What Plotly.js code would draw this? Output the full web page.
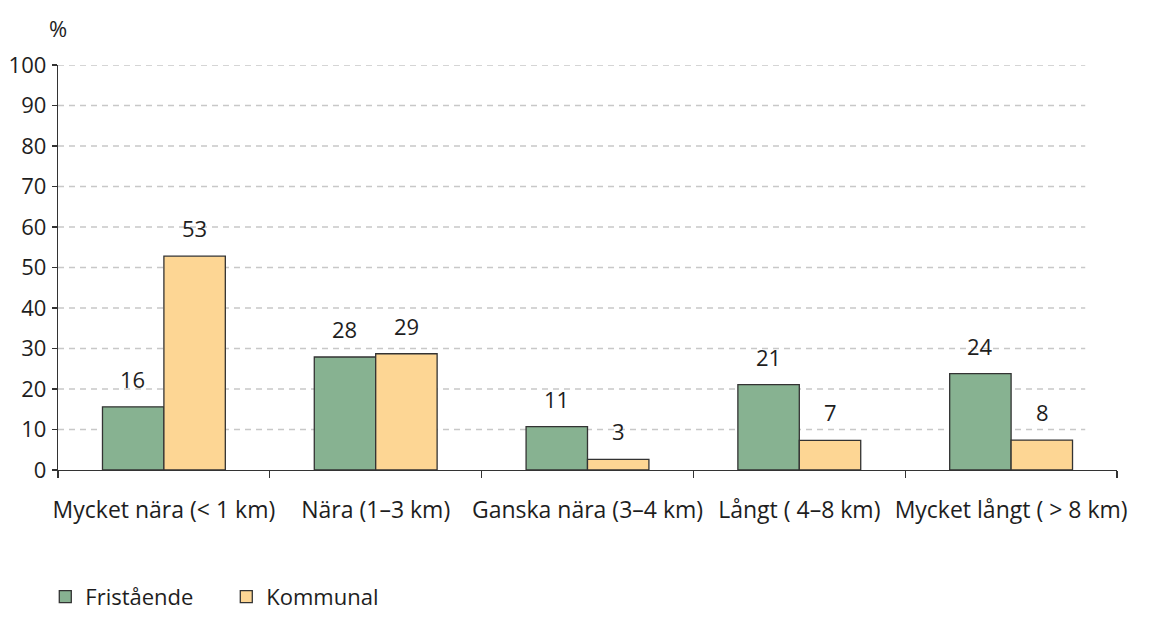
<!DOCTYPE html>
<html><head><meta charset="utf-8">
<script src="https://cdn.plot.ly/plotly-3.0.1.min.js"></script>
<style>html,body{margin:0;padding:0;background:#fff}#chart{width:1159px;height:628px}</style>
</head><body><div id="chart"></div>
<script>
const categories = ["Mycket nära (< 1 km)", "Nära (1–3 km)", "Ganska nära (3–4 km)", "Långt ( 4–8 km)", "Mycket långt ( > 8 km)"];
const fristaende = [15.6, 27.9, 10.7, 21.1, 23.8];
const kommunal = [52.8, 28.7, 2.6, 7.3, 7.4];
const fristaendeLabels = ["16", "28", "11", "21", "24"];
const kommunalLabels = ["53", "29", "3", "7", "8"];
const yTicks = [0, 10, 20, 30, 40, 50, 60, 70, 80, 90, 100];

const FONT = "Open Sans, Noto Sans, sans-serif";
const FS = 22;
const txt = "#1e1e1e";

const traces = [
  {type: "bar", name: "Fristående", x: categories, y: fristaende,
   marker: {color: "#87B291", line: {color: "#333", width: 1.3}}, hoverinfo: "none"},
  {type: "bar", name: "Kommunal", x: categories, y: kommunal,
   marker: {color: "#FDD694", line: {color: "#333", width: 1.3}}, hoverinfo: "none"}
];

const annotations = [];
categories.forEach((c, i) => {
  annotations.push({x: c, y: fristaende[i], xref: "x", yref: "y", text: fristaendeLabels[i],
    showarrow: false, xshift: -31, yshift: 28, font: {family: FONT, size: FS, color: txt}});
  annotations.push({x: c, y: kommunal[i], xref: "x", yref: "y", text: kommunalLabels[i],
    showarrow: false, xshift: 31, yshift: 28, font: {family: FONT, size: FS, color: txt}});
});
annotations.push({x: 0, y: 1, xref: "paper", yref: "paper", yshift: 37, text: "%", showarrow: false,
  xanchor: "center", yanchor: "middle", font: {family: FONT, size: FS, color: txt}});

const shapes = yTicks.filter(v => v > 0).map(v => ({
  type: "line", xref: "paper", yref: "y", x0: 0, x1: 0.97, y0: v, y1: v, layer: "below",
  line: {color: "#c8c8c8", width: 1.3, dash: "6px,5px"}
}));

const layout = {
  width: 1159, height: 628,
  margin: {l: 58, r: 42, t: 65, b: 157},
  paper_bgcolor: "#fff", plot_bgcolor: "#fff",
  font: {family: FONT, size: FS, color: txt},
  barmode: "group", bargap: 0.42, bargroupgap: 0,
  showlegend: true,
  legend: {orientation: "h", x: -0.012, y: -0.31, xanchor: "left", yanchor: "middle",
    font: {family: FONT, size: FS, color: txt}, entrywidth: 136, entrywidthmode: "pixels",
    itemclick: false},
  xaxis: {type: "category", showgrid: false, showline: true, linecolor: "#333", linewidth: 1.3,
    ticks: "outside", ticklen: 7, tickcolor: "#333", tickwidth: 1.3, tickson: "boundaries",
    tickangle: 0, ticklabelstandoff: 19, zeroline: false, fixedrange: true,
    tickfont: {family: FONT, size: 23, color: txt}},
  yaxis: {range: [0, 100], tickvals: yTicks, showgrid: false, showline: true, linecolor: "#333",
    linewidth: 1.3, ticks: "outside", ticklen: 5, tickcolor: "#333", tickwidth: 1.3, zeroline: false,
    ticklabelstandoff: 1, fixedrange: true},
  annotations: annotations,
  shapes: shapes
};

Plotly.newPlot("chart", traces, layout, {displayModeBar: false, staticPlot: true});
</script>
</body></html>
